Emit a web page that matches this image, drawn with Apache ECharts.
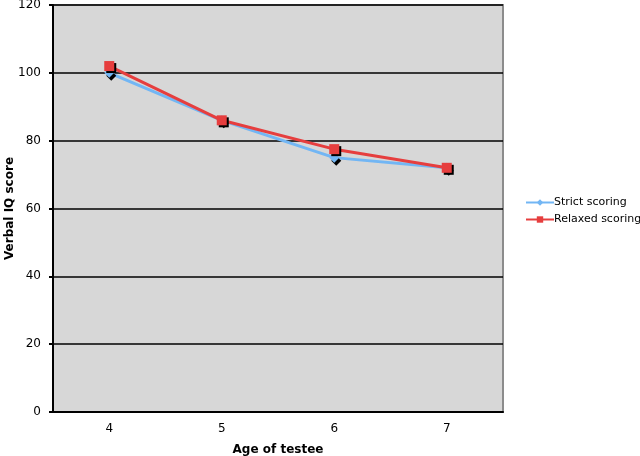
<!DOCTYPE html>
<html lang="en">
<head>
    <meta charset="UTF-8">
    <title>Verbal IQ score</title>
    <script src="https://cdn.jsdelivr.net/npm/echarts@6/dist/echarts.min.js"></script>
</head>
<style>
    html,body{margin:0;padding:0;background:#fff;}
    #chart{width:640px;height:456px;}
</style>
<body>
    <div id="chart"></div>
</body>
</html>

<script>
    // data
    let ages=['4','5','6','7'];
    let strict=[100,86,75,72];
    let relaxed=[102,86,77.5,72];
    let yTicks=[0,20,40,60,80,100,120];

    let font='DejaVu Sans, Verdana, sans-serif';
    let chart=echarts.init(document.getElementById('chart'));
    chart.setOption({
        animation:false,
        textStyle:{fontFamily:font},
        grid:{
            left:53,top:5,width:450,height:407,
            outerBoundsMode:'none',
            containLabel:false,
            show:true,
            backgroundColor:'#d7d7d7',
            borderColor:'#8c8c8c',
            borderWidth:2
        },
        legend:{
            orient:'vertical',
            left:520,
            top:192,
            itemWidth:28,
            itemHeight:8,
            itemGap:6,
            textStyle:{fontFamily:font,fontSize:11,color:'#000',padding:[0,0,0,-5]},
            data:['Strict scoring','Relaxed scoring']
        },
        xAxis:{
            type:'category',
            data:ages,
            name:'Age of testee',
            nameLocation:'middle',
            nameGap:32,
            nameMoveOverlap:false,
            nameTextStyle:{fontFamily:font,fontSize:12,fontWeight:'bold',color:'#000'},
            axisLine:{lineStyle:{color:'#000',width:2}},
            axisTick:{length:4,lineStyle:{color:'#000',width:2}},
            axisLabel:{fontFamily:font,fontSize:12,color:'#000',margin:11}
        },
        yAxis:{
            type:'value',
            min:yTicks[0],
            max:yTicks[yTicks.length-1],
            interval:20,
            name:'Verbal IQ score',
            nameLocation:'middle',
            nameGap:37,
            nameMoveOverlap:false,
            nameTextStyle:{fontFamily:font,fontSize:12,fontWeight:'bold',color:'#000'},
            axisLine:{show:true,lineStyle:{color:'#000',width:2}},
            axisTick:{show:true,length:4,lineStyle:{color:'#000',width:2}},
            axisLabel:{fontFamily:font,fontSize:12,color:'#000',margin:12},
            splitLine:{lineStyle:{color:'#000',width:1.5}}
        },
        series:[
            {
                name:'Strict scoring',
                type:'line',
                data:strict,
                symbol:'diamond',
                symbolSize:10,
                color:'#72b6f4',
                lineStyle:{width:3,color:'#72b6f4'},
                itemStyle:{color:'#72b6f4',shadowColor:'#000',shadowOffsetX:2,shadowOffsetY:3,shadowBlur:0}
            },
            {
                name:'Relaxed scoring',
                type:'line',
                data:relaxed,
                symbol:'rect',
                symbolSize:10,
                color:'#e63e3e',
                lineStyle:{width:3,color:'#e63e3e'},
                itemStyle:{color:'#e63e3e',shadowColor:'#000',shadowOffsetX:2,shadowOffsetY:2,shadowBlur:0}
            }
        ]
    });
</script>
